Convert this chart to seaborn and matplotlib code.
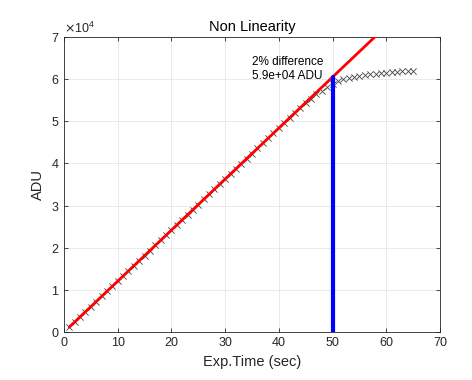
import matplotlib
matplotlib.use("Agg")
import matplotlib.pyplot as plt
import seaborn as sns
import pandas as pd
from matplotlib.ticker import ScalarFormatter

exp_time = list(range(1, 66))
adu = [1210, 2420, 3630, 4840, 6050, 7260, 8470, 9680, 10890, 12100,
       13310, 14520, 15730, 16940, 18150, 19360, 20570, 21780, 22990, 24200,
       25410, 26620, 27830, 29040, 30250, 31460, 32670, 33880, 35090, 36300,
       37510, 38720, 39930, 41140, 42350, 43560, 44770, 45980, 47190, 48400,
       49610, 50820, 52030, 53200, 54350, 55400, 56400, 57300, 58150, 58900,
       59500, 59950, 60300, 60580, 60800, 60980, 61150, 61300, 61450, 61580,
       61700, 61800, 61880, 61950, 62000]
fit_t = [1, 65]
fit_adu = [1210, 78650]
limit_t = [50, 50]
limit_adu = [0, 60500]
annot_text = "2% difference\n5.9e+04 ADU"

sns.set_style("white")
plt.rcParams['font.family'] = ['Liberation Sans', 'DejaVu Sans']

fig = plt.figure(figsize=(4.72, 3.8), dpi=100)
ax = fig.add_axes([0.1356, 0.126, 0.7966, 0.7766])

df = pd.DataFrame({"t": exp_time, "adu": adu})
sns.scatterplot(data=df, x="t", y="adu", marker="x", color="#444444", s=20,
                linewidth=0.6, ax=ax, zorder=3)
sns.lineplot(x=fit_t, y=fit_adu, color="red", linewidth=2, ax=ax, zorder=4,
             estimator=None, sort=False)
sns.lineplot(x=limit_t, y=limit_adu, color="blue", linewidth=3, ax=ax, zorder=5,
             estimator=None, sort=False, errorbar=None)

ax.text(35, 59300, annot_text, fontsize=8.5, ha="left", va="bottom", color="black")

ax.set_xlim(0, 70)
ax.set_ylim(0, 70000)
ax.set_xticks(range(0, 71, 10))
ax.set_yticks(range(0, 70001, 10000))
fmt = ScalarFormatter(useMathText=True)
fmt.set_powerlimits((0, 0))
ax.yaxis.set_major_formatter(fmt)
ax.yaxis.get_offset_text().set_fontsize(9)
ax.yaxis.get_offset_text().set_color("#262626")

ax.grid(True, color="#e6e6e6", linewidth=0.6)
for s in ax.spines.values():
    s.set_visible(True)
    s.set_color("#262626")
    s.set_linewidth(0.6)
ax.tick_params(direction="in", length=3, width=0.6, colors="#262626",
               labelsize=9, top=True, right=True, bottom=True, left=True)
ax.set_title("Non Linearity", fontsize=10.5, color="black", pad=4)
ax.set_xlabel("Exp.Time (sec)", fontsize=10.5, color="#262626")
ax.set_ylabel("ADU", fontsize=10.5, color="#262626")

fig.savefig("out.png", dpi=100)
